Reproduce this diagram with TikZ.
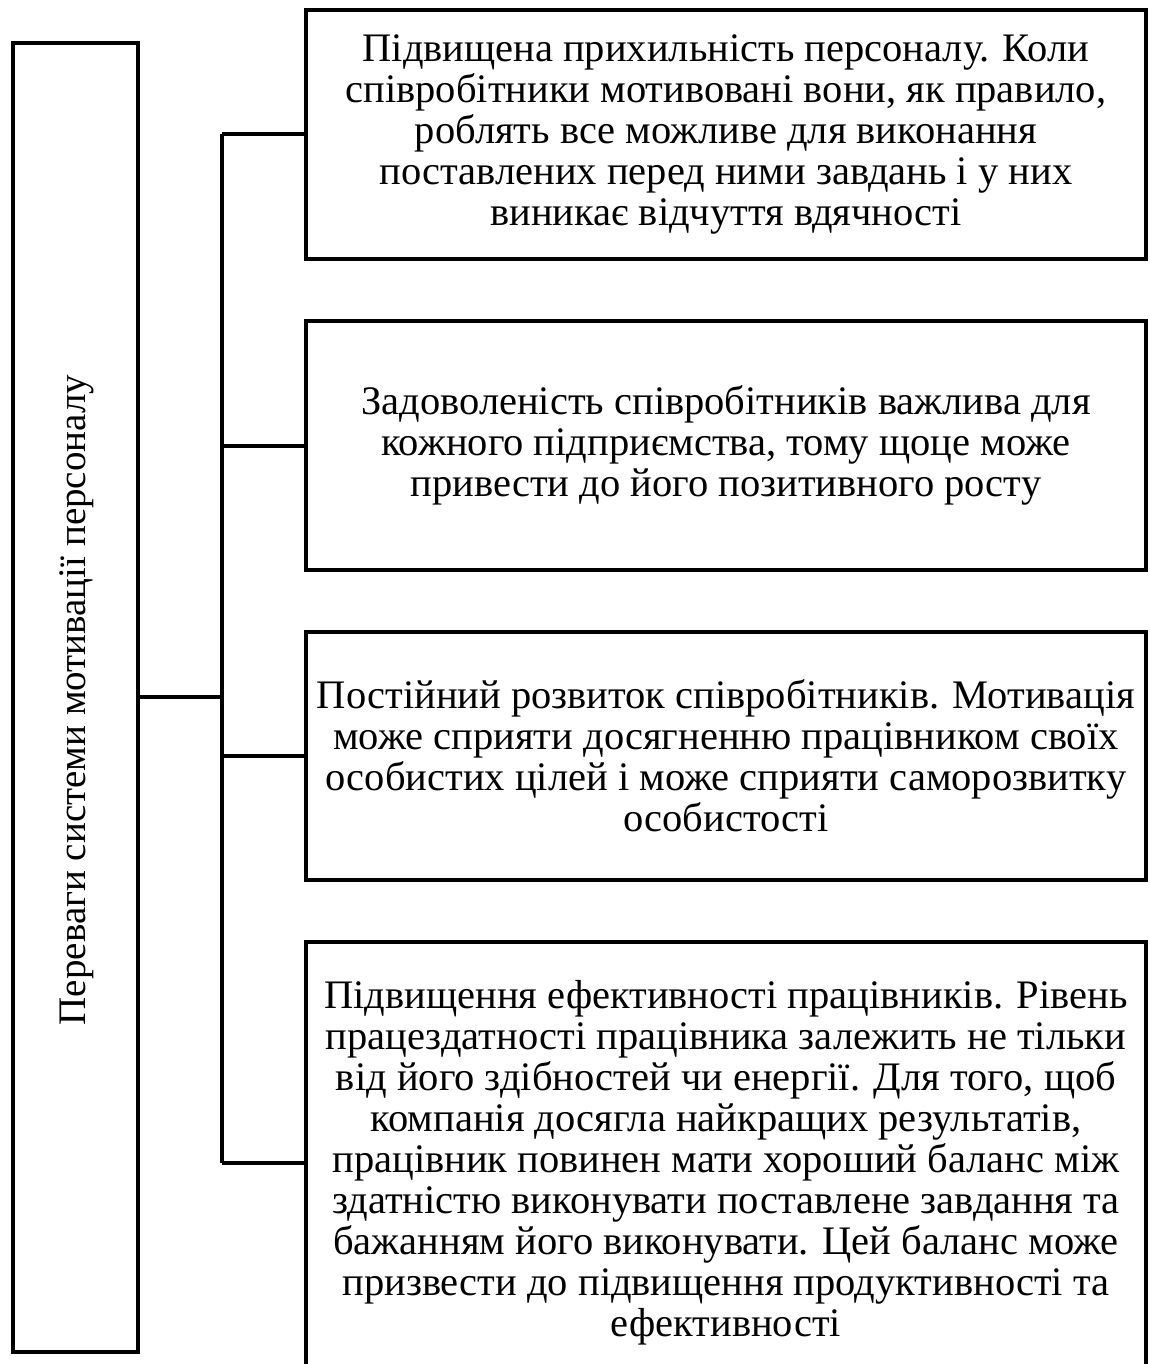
\documentclass[tikz,border=0pt]{standalone}
\usepackage{fontspec}
\setmainfont{Liberation Serif}
\begin{document}
\begin{tikzpicture}[x=1pt,y=-1pt,
  frame/.style={draw,line width=4pt,rectangle,inner sep=0pt},
  rbox/.style={frame,minimum width=840pt,align=center,
    font=\fontsize{40.5}{41}\selectfont},
  link/.style={line width=4pt}]
\useasboundingbox (0,0) rectangle (1150,1364);
\clip (0,0) rectangle (1150,1364);
\node[frame,minimum width=125pt,minimum height=1309pt] (L) at (75.5,697.5) {};
\node[rotate=90,font=\fontsize{39}{41}\selectfont] (Lt) at (77,700) {Переваги системи мотивації персоналу};
\node[rbox,minimum height=249pt] (b1) at (726,134.5) {Підвищена прихильність персоналу. Коли\\співробітники мотивовані вони, як правило,\\роблять все можливе для виконання\\поставлених перед ними завдань і у них\\виникає відчуття вдячності};
\node[rbox,minimum height=249pt] (b2) at (726,445.5) {Задоволеність співробітників важлива для\\кожного підприємства, тому щоце може\\привести до його позитивного росту};
\node[rbox,minimum height=248pt] (b3) at (726,756) {Постійний розвиток співробітників. Мотивація\\може сприяти досягненню працівником своїх\\особистих цілей і може сприяти саморозвитку\\особистості};
\node[rbox,minimum height=442pt] (b4) at (726,1163) {Підвищення ефективності працівників. Рівень\\працездатності працівника залежить не тільки\\від його здібностей чи енергії. Для того, щоб\\компанія досягла найкращих результатів,\\працівник повинен мати хороший баланс між\\здатністю виконувати поставлене завдання та\\бажанням його виконувати. Цей баланс може\\призвести до підвищення продуктивності та\\ефективності};
\coordinate (t1) at (222,134.5);
\coordinate (t4) at (222,1163);
\draw[link] (t1) -- (t4);
\draw[link] (L.east |- 0,697) -- (222,697);
\draw[link] (t1) -- (b1.west);
\draw[link] (222,445.5) -- (b2.west);
\draw[link] (222,756) -- (b3.west);
\draw[link] (t4) -- (b4.west);
\end{tikzpicture}
\end{document}
